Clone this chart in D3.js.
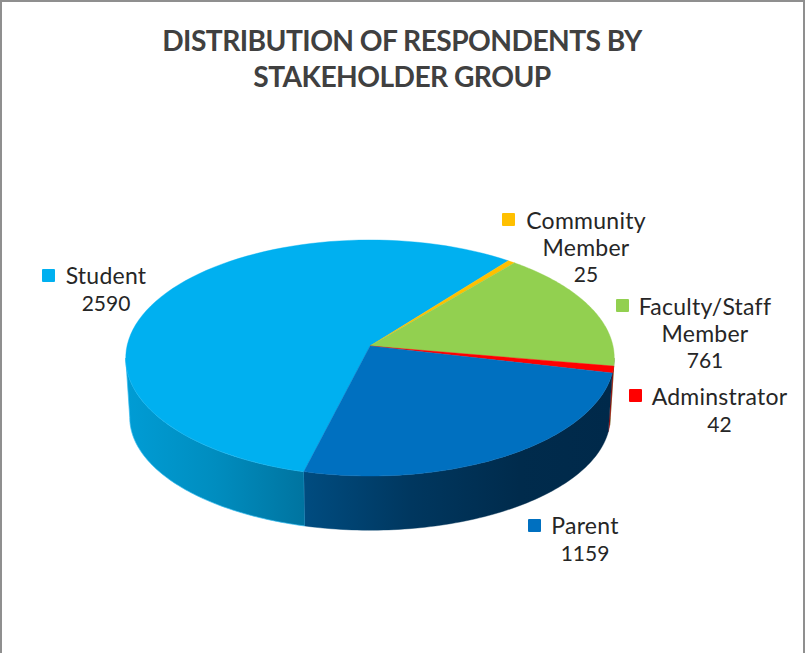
<!DOCTYPE html>
<html><head><meta charset="utf-8">
<script src="https://cdn.jsdelivr.net/npm/d3@7"></script>
<style>html,body{margin:0;padding:0;background:#fff}svg{display:block}</style>
</head><body><svg id="c" width="805" height="653"></svg>
<script>
const categories = ["Student","Community Member","Faculty/Staff Member","Adminstrator","Parent"];
const values = [2590,25,761,42,1159];
const colors = ["#00B0F0","#FFC000","#92D050","#FF0000","#0070C0"];
const titleLines = ["DISTRIBUTION OF RESPONDENTS BY","STAKEHOLDER GROUP"];
const labelLines = [["Student"],["Community","Member"],["Faculty/Staff","Member"],["Adminstrator"],["Parent"]];

const W=805,H=653, svg=d3.select("#c");
const FONT="'Lato','Open Sans',sans-serif";
// frame
svg.append("path").attr("d",`M1,${H}V1H${W-1}V${H}`).attr("fill","none").attr("stroke","#8f8f8f").attr("stroke-width",2);

const p=0.1017;
const top_={cx:370,cy:346,R:243,A:116.8};
const bot={cx:370,cy:406,R:239,A:111.6};
const proj=(g,t)=>{const u=Math.cos(t),v=Math.sin(t),w=1-p*v;return [g.cx+g.R*u/w,g.cy+g.A*v/w];};
const start=194.2*Math.PI/180;
const arcs=d3.pie().sort(null).value(d=>d).startAngle(start).endAngle(start+2*Math.PI)(values);
const toT=a=>a-Math.PI/2;
const line=d3.line();
const samples=(a,b)=>d3.range(0,81).map(i=>a+(b-a)*i/80);

const defs=svg.append("defs");
const grad=(id,x1,x2,stops)=>{const g=defs.append("linearGradient").attr("id",id).attr("gradientUnits","userSpaceOnUse")
  .attr("x1",x1).attr("x2",x2).attr("y1",0).attr("y2",0);
  stops.forEach(s=>g.append("stop").attr("offset",s[0]).attr("stop-color",s[1]));};
grad("w0",128,304,[[0,"#009CD4"],[0.5,"#008DBF"],[1,"#0074A0"]]);
grad("w4",304,612,[[0,"#004C80"],[0.35,"#00375F"],[0.7,"#002B4C"],[1,"#00294A"]]);
const wallFill=["url(#w0)","#A88000","#5F8A33","#A80000","url(#w4)"];

// side walls: from the right silhouette point round the near side to the left one
const gW=svg.append("g");
arcs.forEach((d,i)=>{
  for(const k of [0,1,2]){
    const t0=toT(d.startAngle)+k*2*Math.PI-2*Math.PI, t1=toT(d.endAngle)+k*2*Math.PI-2*Math.PI;
    const a=Math.max(t0,p), b=Math.min(t1,Math.PI-p);
    if(b<=a) continue;
    const s=samples(a,b);
    const pts=s.map(t=>proj(top_,t)).concat(s.slice().reverse().map(t=>proj(bot,t)));
    gW.append("path").attr("d",line(pts)+"Z").attr("fill",wallFill[i])
      .attr("stroke",i===0?"#38BDF0":wallFill[i]).attr("stroke-width",i===0?0.7:0.4);
  }
});
// top faces
const gT=svg.append("g");
arcs.forEach((d,i)=>{
  const pts=[[top_.cx,top_.cy]].concat(samples(toT(d.startAngle),toT(d.endAngle)).map(t=>proj(top_,t)));
  gT.append("path").attr("d",line(pts)+"Z").attr("fill",colors[i]).attr("stroke",colors[i]).attr("stroke-width",0.4);
});

// title
svg.append("g").selectAll("text").data(titleLines).join("text")
  .attr("x",402).attr("y",(d,i)=>51+i*36).attr("text-anchor","middle")
  .attr("font-family",FONT).attr("font-weight",700).attr("font-size",28.2).attr("letter-spacing",-0.55).attr("fill","#404040").text(d=>d);

// labels
const labelAt=[{x:106,y:284,kx:42,ky:269},{x:586,y:229,kx:502,ky:213},{x:705,y:315,kx:616,ky:299},{x:719.5,y:405,kx:629,ky:389},{x:585,y:534,kx:528,ky:519}];
const gL=svg.append("g");
categories.forEach((c,i)=>{
  const L=labelAt[i], lines=labelLines[i].concat([String(values[i])]);
  gL.append("rect").attr("x",L.kx).attr("y",L.ky).attr("width",13).attr("height",13).attr("rx",1).attr("fill",colors[i]);
  lines.forEach((t,j)=>{
    const isNum=j===lines.length-1;
    gL.append("text").attr("x",L.x).attr("y",L.y+j*26.5).attr("text-anchor","middle")
      .attr("font-family",FONT).attr("font-size",isNum?21:23).attr("letter-spacing",isNum?0:0.25).attr("fill","#262626").text(t);
  });
});
</script></body></html>
